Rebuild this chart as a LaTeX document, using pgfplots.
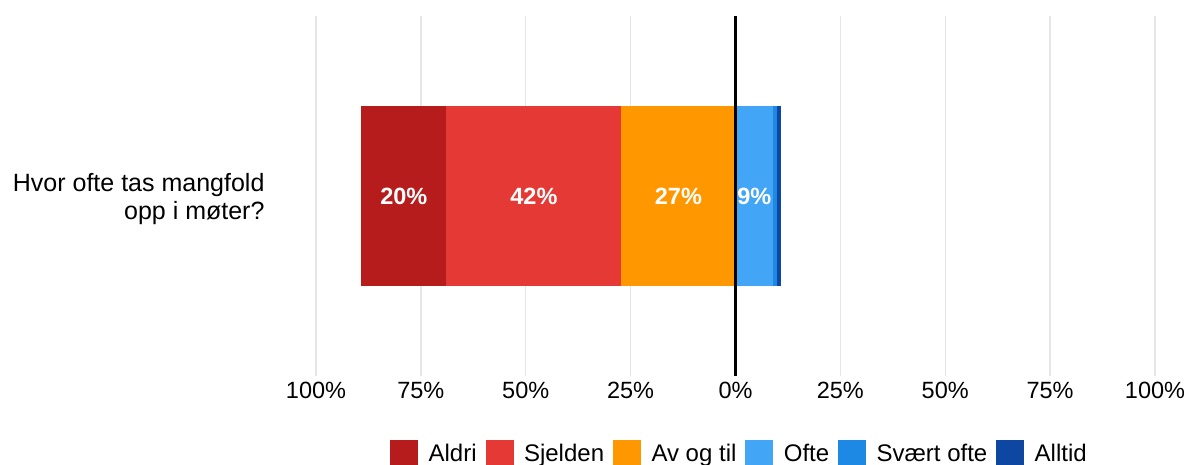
\documentclass[border=0pt]{standalone}
\usepackage{pgfplots}
\pgfplotsset{compat=1.18}
\usepackage{fontspec}
\setmainfont{Liberation Sans}
\usetikzlibrary{calc}
\definecolor{aldri}{HTML}{B71C1C}
\definecolor{sjelden}{HTML}{E53935}
\definecolor{avogtil}{HTML}{FF9800}
\definecolor{ofte}{HTML}{42A5F5}
\definecolor{svaert}{HTML}{1E88E5}
\definecolor{alltid}{HTML}{0D47A1}
\definecolor{gridc}{HTML}{E6E6E6}
\pgfplotsset{sqleg/.style={legend image code/.code={\fill[#1] (0pt,-13.5pt) rectangle (27pt,13.5pt);}}}
\begin{document}
\begin{tikzpicture}
\begin{axis}[
  scale only axis, width=839pt, height=360pt,
  xmin=-100, xmax=100, ymin=0, ymax=2,
  axis line style={draw=none},
  major tick length=0pt,
  xmajorgrids, ymajorgrids=false,
  grid style={gridc, line width=1.3pt},
  xtick={-100,-75,-50,-25,0,25,50,75,100},
  xticklabels={100\%,75\%,50\%,25\%,0\%,25\%,50\%,75\%,100\%},
  ytick={1},
  yticklabels={{Hvor ofte tas mangfold\\opp i møter?}},
  ticklabel style={font=\fontsize{23.5}{28}\selectfont},
  xticklabel style={yshift=-2.5pt},
  yticklabel style={align=right, xshift=-48pt, yshift=-3pt, font=\fontsize{25}{28}\selectfont},
  xbar stacked, bar width=180pt,
  legend columns=6,
  legend cell align=left,
  legend style={at={(0.5,0)}, anchor=north, xshift=4pt, yshift=-62pt,
    draw=none, fill=none, font=\fontsize{24}{28}\selectfont,
    /tikz/every even column/.append style={column sep=7pt},
    /tikz/every odd column/.append style={column sep=9pt}},
]
\addplot[forget plot, fill=avogtil, draw=none] coordinates {(-27.2,1)};
\addplot[forget plot, fill=sjelden, draw=none] coordinates {(-41.7,1)};
\addplot[forget plot, fill=aldri, draw=none] coordinates {(-20.3,1)};
\addplot[forget plot, fill=ofte, draw=none] coordinates {(9.0,1)};
\addplot[forget plot, fill=svaert, draw=none] coordinates {(1.0,1)};
\addplot[forget plot, fill=alltid, draw=none] coordinates {(0.9,1)};
\addlegendimage{sqleg=aldri}\addlegendentry{Aldri}
\addlegendimage{sqleg=sjelden}\addlegendentry{Sjelden}
\addlegendimage{sqleg=avogtil}\addlegendentry{Av og til}
\addlegendimage{sqleg=ofte}\addlegendentry{Ofte}
\addlegendimage{sqleg=svaert}\addlegendentry{Svært ofte}
\addlegendimage{sqleg=alltid}\addlegendentry{Alltid}
\coordinate (z0) at (axis cs:0,0);
\coordinate (z1) at (axis cs:0,2);
\coordinate (l1) at (axis cs:-79.05,1);
\coordinate (l2) at (axis cs:-48.05,1);
\coordinate (l3) at (axis cs:-13.6,1);
\coordinate (l4) at (axis cs:4.5,1);
\end{axis}
\draw[black, line width=2.5pt] (z0) -- (z1);
\node[font=\bfseries\fontsize{23.5}{28}\selectfont, text=white] at (l1) {20\%};
\node[font=\bfseries\fontsize{23.5}{28}\selectfont, text=white] at (l2) {42\%};
\node[font=\bfseries\fontsize{23.5}{28}\selectfont, text=white] at (l3) {27\%};
\node[font=\bfseries\fontsize{23.5}{28}\selectfont, text=white] at (l4) {9\%};
\pgfresetboundingbox
\path[use as bounding box] ($(current axis.south west)+(-316pt,-89pt)$) rectangle ($(current axis.south west)+(873pt,376pt)$);
\end{tikzpicture}
\end{document}
